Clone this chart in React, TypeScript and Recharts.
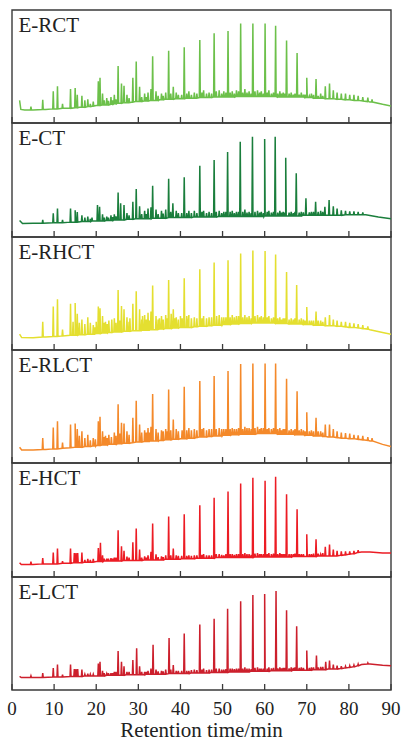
import React from 'react';
import { LineChart, Line, XAxis, YAxis, ReferenceArea, Label } from 'recharts';

const X_TICKS = [0, 10, 20, 30, 40, 50, 60, 70, 80, 90];
const SAMPLE_NAMES = ['E-RCT', 'E-CT', 'E-RHCT', 'E-RLCT', 'E-HCT', 'E-LCT'];
const SAMPLE_COLORS = ['#6cc04a', '#1a7e3c', '#e4df30', '#f4892a', '#ec1c24', '#cc1f2c'];

// baseline: [time, intensity]; peaks: [time, foot, top]
const RCT_BASE = [[1.8, 20], [2.1, 12], [3, 11.5], [5, 11.5], [8, 12], [10, 12.5], [13, 13], [16, 14], [20, 15.5], [25, 17.5], [30, 19], [35, 20.5], [40, 21.5], [45, 22.5], [50, 23], [55, 23.5], [60, 23.5], [65, 23], [70, 22.5], [75, 21.5], [80, 20.5], [85, 18.5], [88, 16.5], [90, 15]];
const RCT_PEAKS = [[4.5, 11.5, 14.5], [7.3, 12, 20.5], [9.8, 12.5, 28], [10.8, 12.5, 32.5], [12.0, 13, 17], [13.9, 13, 30], [15.0, 13.5, 31], [15.5, 13.5, 25], [16.6, 14, 24], [17.3, 14, 20], [18.0, 14.5, 21], [19.3, 15, 19], [20.5, 15.5, 37], [20.9, 15.5, 40], [21.5, 16, 26], [22.5, 16, 22], [23.5, 16.5, 23], [24.3, 17, 25], [25.2, 17.5, 50.5], [26.0, 17.5, 35], [26.6, 18, 33], [27.3, 18, 25], [28.7, 18.5, 40], [29.5, 19, 54.5], [30.3, 19, 32], [31.5, 19.5, 26], [32.3, 19.5, 27], [33.0, 20, 30], [33.4, 20, 59], [34.2, 20, 28], [35.5, 20.5, 26], [36.5, 21, 27], [37.2, 21, 64], [38.3, 21, 32], [39.0, 21.5, 27], [40.9, 21.5, 67], [42.0, 22, 28], [43.3, 22, 27], [44.6, 22.5, 73.5], [45.5, 22.5, 29], [46.8, 22.5, 27], [48.0, 23, 79.5], [49.2, 23, 29], [50.3, 23, 28], [51.3, 23, 81.5], [52.3, 23, 28], [53.3, 23.5, 29], [54.3, 23.5, 88], [55.3, 23.5, 30], [56.3, 23.5, 28], [57.2, 23.5, 88], [58.3, 23.5, 29], [59.2, 23.5, 28], [60.1, 23.5, 88], [61.0, 23.5, 29], [62.6, 23.5, 86], [63.6, 23, 28], [64.4, 23, 27], [65.2, 23, 73], [66.3, 23, 27], [67.7, 23, 62], [68.7, 23, 27], [70.0, 22.5, 40], [71.1, 22.5, 26], [72.2, 22, 39], [73.3, 22, 26], [74.4, 21.5, 32.5], [75.4, 21.5, 35], [76.3, 21.5, 29], [77.2, 21, 27], [78.2, 21, 26], [79.2, 20.5, 26], [80.2, 20.5, 25], [81.2, 20, 25], [82.2, 20, 24], [83.3, 19.5, 23], [84.5, 19, 22.5], [85.5, 18.5, 21]];
const RCT_NOISE = [[18.6, 14.5, 17], [21.9, 16, 20], [22.9, 16, 19.5], [23.9, 16.5, 20], [24.7, 17, 21], [27.8, 18, 22], [30.8, 19, 23], [31.9, 19.5, 23], [34.7, 20, 24], [35.9, 20.5, 24], [37.7, 21, 26], [39.5, 21.5, 25], [40.3, 21.5, 25], [41.5, 22, 26], [42.6, 22, 25], [43.9, 22, 26], [45.1, 22.5, 27], [46.2, 22.5, 26], [47.4, 22.5, 26], [48.5, 23, 28], [49.8, 23, 26], [50.8, 23, 27], [51.8, 23, 27], [52.8, 23, 26], [53.8, 23.5, 28], [54.8, 23.5, 27], [55.8, 23.5, 27], [56.8, 23.5, 26], [57.7, 23.5, 28], [58.8, 23.5, 27], [59.7, 23.5, 26], [60.6, 23.5, 27], [61.6, 23.5, 26], [62.1, 23.5, 27], [63.1, 23, 26], [64.0, 23, 26], [64.8, 23, 26], [65.8, 23, 26], [66.8, 23, 25], [67.2, 23, 26], [68.2, 23, 25], [69.2, 23, 25], [69.6, 22.5, 25], [70.6, 22.5, 24], [71.6, 22, 25], [72.7, 22, 24], [73.8, 22, 24]];

const CT_BASE = [[1.8, 14.5], [2.5, 11.8], [5, 12], [10, 12.5], [15, 13], [20, 14], [25, 15], [30, 16], [35, 16.5], [40, 17], [45, 17.5], [50, 18], [55, 18], [60, 18.5], [65, 18.5], [70, 19], [75, 19], [80, 19.5], [84, 19.5], [87, 17.5], [90, 16]];
const CT_PEAKS = [[7.3, 12, 15], [9.8, 12.5, 20.7], [10.8, 12.5, 25], [12.0, 12.5, 15], [13.9, 13, 25], [15.0, 13, 23.5], [15.5, 13, 22], [16.6, 13.5, 19], [17.3, 13.5, 17], [18.0, 13.5, 18], [19.0, 14, 17], [20.3, 14, 28], [20.8, 14, 26.5], [21.5, 14, 20], [22.5, 14.5, 18], [23.5, 14.5, 19], [24.3, 15, 20], [25.2, 15, 39], [25.8, 15, 29.5], [26.6, 15, 28], [27.3, 15.5, 21], [28.7, 15.5, 31], [29.5, 16, 42], [30.3, 16, 27], [31.5, 16, 23], [32.3, 16, 25], [33.0, 16, 26], [33.4, 16.5, 45], [34.2, 16.5, 24], [35.5, 16.5, 23], [36.5, 16.5, 24], [37.2, 17, 51], [38.2, 17, 29.5], [39.0, 17, 23], [40.9, 17, 52.5], [42.0, 17, 23], [43.3, 17.5, 23], [44.6, 17.5, 62.5], [45.5, 17.5, 23], [46.8, 17.5, 22], [48.0, 17.5, 67.5], [49.2, 18, 23], [50.3, 18, 22], [51.2, 18, 74.5], [52.3, 18, 23], [53.3, 18, 22], [54.2, 18, 83.5], [55.3, 18, 24], [56.3, 18, 22], [57.1, 18, 88], [58.3, 18, 23], [59.2, 18, 22], [60.0, 18.5, 86], [61.0, 18.5, 23], [62.5, 18.5, 88], [63.6, 18.5, 23], [64.4, 18.5, 22], [65.0, 18.5, 69.5], [66.3, 18.5, 22], [67.5, 18.5, 56], [68.7, 18.5, 22], [69.8, 19, 34], [71.1, 19, 22], [72.1, 19, 31], [73.3, 19, 23], [74.3, 19, 26.5], [75.3, 19, 32.5], [76.3, 19, 27], [77.2, 19, 25], [78.2, 19, 23.5], [79.2, 19.5, 23], [80.2, 19.5, 22.5], [81.2, 19.5, 22.5], [82.2, 19.5, 22], [83.3, 19.5, 21.5]];
const CT_NOISE = [[18.6, 13.5, 16], [21.9, 14, 17], [22.9, 14.5, 17], [23.9, 14.5, 17.5], [24.7, 15, 18], [27.8, 15.5, 19], [30.8, 16, 20], [31.9, 16, 20], [34.7, 16.5, 20], [35.9, 16.5, 20.5], [37.7, 17, 22], [39.5, 17, 21], [40.3, 17, 21], [41.5, 17, 21], [42.6, 17, 21], [43.9, 17.5, 21], [45.1, 17.5, 22], [46.2, 17.5, 21], [47.4, 17.5, 21], [48.5, 17.5, 22], [49.8, 18, 21], [50.8, 18, 22], [51.8, 18, 22], [52.8, 18, 21], [53.8, 18, 22], [54.8, 18, 22], [55.8, 18, 21.5], [56.8, 18, 21], [57.7, 18, 22], [58.8, 18, 21.5], [59.7, 18, 21], [60.6, 18.5, 22], [61.6, 18.5, 21.5], [62.1, 18.5, 22], [63.1, 18.5, 21.5], [64.0, 18.5, 21.5], [64.8, 18.5, 21.5], [65.8, 18.5, 21.5], [66.8, 18.5, 21], [67.2, 18.5, 22], [68.2, 18.5, 21.5], [69.2, 19, 21.5], [70.6, 19, 21.5], [71.6, 19, 22], [72.7, 19, 22], [73.8, 19, 22]];

const RHCT_BASE = [[1.8, 14], [2.3, 11], [5, 10.8], [8, 11.5], [10, 12], [15, 13], [20, 14.5], [25, 16], [30, 17], [35, 18.5], [40, 20], [45, 21], [50, 22.5], [55, 23.5], [60, 24], [65, 23.5], [70, 22.5], [75, 21.5], [80, 20], [85, 18], [88, 15.5], [90, 14]];
const RHCT_PEAKS = [[7.3, 11.5, 25], [9.8, 12, 38.5], [10.8, 12, 45], [12.0, 12.5, 18], [13.9, 13, 41], [14.5, 13, 25], [15.0, 13, 41.5], [15.5, 13, 32], [16.0, 13.5, 24], [16.6, 13.5, 27], [17.3, 13.5, 23], [18.0, 14, 29], [18.6, 14, 24], [19.3, 14, 22], [20.0, 14.5, 25], [20.5, 14.5, 38.5], [20.9, 14.5, 37], [21.5, 15, 30], [22.2, 15, 25], [23.0, 15.5, 26], [23.7, 15.5, 27], [24.3, 16, 28], [25.2, 16, 53], [26.0, 16, 39], [26.6, 16.5, 36], [27.3, 16.5, 29], [28.0, 16.5, 28], [28.7, 17, 41], [29.5, 17, 52], [30.3, 17, 36], [31.0, 17.5, 30], [31.5, 17.5, 31], [32.3, 17.5, 33], [33.0, 18, 34], [33.4, 18, 57], [34.2, 18, 30], [35.0, 18.5, 28], [35.5, 18.5, 30], [36.5, 19, 31], [37.2, 19, 62], [37.8, 19, 32], [38.3, 19.5, 36], [39.0, 19.5, 29], [40.0, 20, 30], [40.9, 20, 63.5], [41.5, 20, 30], [42.0, 20, 31], [43.3, 20.5, 29], [44.6, 21, 71.5], [45.5, 21, 30], [46.8, 21.5, 29], [48.0, 22, 77.5], [48.6, 22, 30], [49.2, 22, 31], [50.3, 22.5, 29], [51.3, 22.5, 79.5], [52.3, 23, 31], [53.3, 23, 30], [54.3, 23.5, 85.5], [55.3, 23.5, 31], [56.3, 23.5, 30], [57.2, 24, 88], [58.3, 24, 31], [59.2, 24, 30], [60.1, 24, 87.5], [61.0, 24, 30], [62.6, 23.5, 84.5], [63.6, 23.5, 29], [64.4, 23.5, 28], [65.2, 23.5, 69], [66.3, 23, 28], [67.6, 23, 57.5], [68.7, 23, 28], [70.0, 22.5, 38], [71.1, 22.5, 26], [72.2, 22, 34], [73.3, 22, 26], [74.4, 21.5, 29], [75.4, 21.5, 31], [76.3, 21.5, 27], [77.2, 21, 26], [78.2, 21, 25], [79.2, 20.5, 25], [80.2, 20, 24], [81.2, 20, 23.5], [82.2, 19.5, 23], [83.3, 19, 22], [84.5, 18.5, 21]];
const RHCT_NOISE = [[19.7, 14, 20], [21.9, 15, 24], [22.6, 15, 23], [24.7, 16, 24], [25.6, 16, 26], [27.8, 16.5, 25], [30.8, 17, 27], [31.9, 17.5, 27], [32.7, 17.5, 26], [34.7, 18, 27], [35.9, 18.5, 27], [36.9, 19, 28], [38.7, 19.5, 28], [39.5, 19.5, 27], [40.4, 20, 28], [41.9, 20, 27], [42.6, 20, 28], [43.9, 20.5, 28], [45.1, 21, 28], [46.2, 21, 28], [47.4, 21.5, 29], [49.8, 22, 29], [50.8, 22.5, 29], [51.8, 22.5, 29], [52.8, 23, 29], [53.8, 23, 30], [54.8, 23.5, 29], [55.8, 23.5, 29], [56.8, 23.5, 28], [57.7, 24, 30], [58.8, 24, 29], [59.7, 24, 29], [60.6, 24, 29], [61.6, 24, 28], [62.1, 24, 29], [63.1, 23.5, 28], [64.0, 23.5, 27], [64.8, 23.5, 28], [65.8, 23, 27], [66.8, 23, 27], [67.2, 23, 28], [68.2, 23, 27], [69.2, 22.5, 27], [69.6, 22.5, 26], [70.6, 22.5, 26], [71.6, 22, 26], [72.7, 22, 26], [73.8, 22, 25]];

const RLCT_BASE = [[1.8, 14], [2.3, 11.6], [5, 11.5], [8, 12], [10, 12.5], [15, 14], [20, 15.5], [25, 17], [30, 18.5], [35, 20], [40, 21.5], [45, 23], [50, 24.5], [55, 25.5], [60, 26], [65, 25.5], [70, 24.5], [75, 23], [80, 21.5], [85, 19.5], [88, 16.5], [90, 14.5]];
const RLCT_PEAKS = [[7.3, 12, 22], [9.8, 12.5, 31.5], [10.8, 12.5, 37], [12.0, 13, 18], [13.9, 13.5, 34], [15.0, 14, 35], [15.5, 14, 30], [16.0, 14, 24], [16.6, 14, 28], [17.3, 14.5, 22], [18.0, 14.5, 25], [19.3, 15, 22], [20.5, 15.5, 37], [20.9, 15.5, 41], [21.5, 16, 28], [22.2, 16, 24], [23.0, 16.5, 25], [24.3, 16.5, 27], [25.2, 17, 52], [26.0, 17, 35.5], [26.6, 17.5, 35], [27.3, 17.5, 28], [28.7, 18, 40], [29.5, 18.5, 55], [30.3, 18.5, 34], [31.5, 19, 29], [32.3, 19, 31], [33.0, 19.5, 32], [33.4, 19.5, 61], [34.2, 19.5, 30], [35.5, 20, 29], [36.5, 20.5, 30], [37.2, 20.5, 65], [38.3, 21, 38.5], [39.0, 21, 30], [40.9, 21.5, 67.5], [42.0, 22, 31], [43.3, 22, 30], [44.6, 23, 72.5], [45.5, 23, 31], [46.8, 23.5, 30], [48.0, 24, 77], [49.2, 24, 31], [50.3, 24.5, 30], [51.3, 24.5, 81.5], [52.3, 25, 31], [53.3, 25, 30], [54.3, 25.5, 87.5], [55.3, 25.5, 32], [56.3, 25.5, 31], [57.2, 25.5, 88], [58.3, 26, 32], [59.2, 26, 31], [60.1, 26, 88], [61.0, 26, 31], [62.6, 26, 88], [63.6, 25.5, 31], [64.4, 25.5, 30], [65.2, 25.5, 74.5], [66.3, 25.5, 30], [67.7, 25, 63.5], [68.7, 25, 30], [70.0, 24.5, 45], [71.1, 24.5, 29], [72.2, 24, 40], [73.3, 24, 28], [74.4, 23.5, 34], [75.4, 23, 34], [76.3, 23, 30], [77.2, 22.5, 28], [78.2, 22, 27], [79.2, 22, 26.5], [80.2, 21.5, 26], [81.2, 21.5, 25], [82.2, 21, 24.5], [83.3, 20.5, 24], [84.5, 20, 23], [85.5, 19.5, 22]];
const RLCT_NOISE = [[18.6, 14.5, 20], [19.8, 15, 21], [21.9, 16, 23], [22.6, 16, 22], [23.6, 16.5, 23], [24.7, 16.5, 24], [25.6, 17, 26], [27.8, 17.5, 25], [30.8, 18.5, 27], [31.9, 19, 27], [32.7, 19, 27], [34.7, 19.5, 27], [35.9, 20, 28], [36.9, 20.5, 28], [37.7, 20.5, 29], [39.5, 21, 28], [40.4, 21.5, 29], [41.5, 21.5, 29], [42.6, 22, 29], [43.9, 22.5, 29], [45.1, 23, 30], [46.2, 23, 29], [47.4, 23.5, 30], [48.5, 24, 30], [49.8, 24, 30], [50.8, 24.5, 30], [51.8, 24.5, 30], [52.8, 25, 30], [53.8, 25, 31], [54.8, 25.5, 30], [55.8, 25.5, 31], [56.8, 25.5, 30], [57.7, 25.5, 31], [58.8, 26, 30], [59.7, 26, 31], [60.6, 26, 30], [61.6, 26, 30], [62.1, 26, 31], [63.1, 25.5, 30], [64.0, 25.5, 29], [64.8, 25.5, 30], [65.8, 25.5, 29], [66.8, 25.5, 29], [67.2, 25, 30], [68.2, 25, 29], [69.2, 25, 29], [69.6, 24.5, 28], [70.6, 24.5, 28], [71.6, 24, 28], [72.7, 24, 28], [73.8, 23.5, 27]];

const HCT_BASE = [[1.8, 12.5], [2.2, 11], [5, 11], [10, 11.5], [15, 12.5], [20, 13.5], [25, 14], [30, 14.5], [35, 15], [40, 15.5], [45, 16.5], [50, 17], [55, 17], [60, 17.5], [65, 17.5], [70, 18], [75, 18.5], [78, 19], [81, 20.5], [83, 22], [85, 22], [88, 21], [90, 21]];
const HCT_PEAKS = [[4.5, 11, 13.5], [7.3, 11.5, 16.5], [9.8, 11.5, 21.5], [10.8, 11.5, 25], [12.0, 12, 14], [13.9, 12, 25], [14.8, 12.5, 21], [15.2, 12.5, 21], [15.6, 12.5, 21], [16.6, 12.5, 21.5], [17.3, 13, 15], [18.0, 13, 16], [19.3, 13, 16], [20.5, 13.5, 25.5], [21.0, 13.5, 30], [21.5, 13.5, 19], [22.5, 14, 16], [23.5, 14, 16.5], [24.3, 14, 17], [25.2, 14, 41], [26.0, 14, 27], [26.6, 14.5, 23], [27.3, 14.5, 18], [28.7, 14.5, 30.5], [29.5, 14.5, 42.5], [30.3, 14.5, 24], [31.5, 15, 18], [32.3, 15, 19], [33.0, 15, 22], [33.4, 15, 47], [34.2, 15, 20], [35.5, 15, 18], [36.5, 15.5, 19], [37.2, 15.5, 53], [38.3, 15.5, 25], [39.0, 15.5, 19], [40.9, 16, 55], [42.0, 16, 19], [43.3, 16, 19], [44.6, 16.5, 63], [45.5, 16.5, 20], [46.8, 16.5, 19], [48.0, 16.5, 69.5], [49.2, 17, 20], [50.3, 17, 19], [51.3, 17, 75], [52.3, 17, 20], [53.3, 17, 20], [54.3, 17, 82], [55.3, 17, 21], [56.3, 17, 20], [57.2, 17, 87], [58.3, 17.5, 21], [59.2, 17.5, 20], [60.1, 17.5, 84.5], [61.0, 17.5, 21], [62.6, 17.5, 88], [63.6, 17.5, 21], [64.4, 17.5, 20], [65.2, 17.5, 72.5], [66.3, 17.5, 20], [67.7, 18, 59.5], [68.7, 18, 20], [70.0, 18, 37.5], [71.1, 18, 20], [72.2, 18, 33], [73.3, 18.5, 20], [74.4, 18.5, 26.5], [75.4, 18.5, 28.5], [76.3, 18.5, 24], [77.2, 18.5, 23], [78.2, 19, 22.5], [79.2, 19.5, 22.5], [80.2, 20, 22.5], [81.2, 20.5, 23], [82.2, 21.5, 23.5]];
const HCT_NOISE = [[18.6, 13, 15], [21.9, 14, 16], [22.9, 14, 16], [23.9, 14, 16], [24.7, 14, 17], [27.8, 14.5, 17], [30.8, 14.5, 17], [31.9, 15, 17], [34.7, 15, 17.5], [35.9, 15, 17.5], [37.7, 15.5, 19], [39.5, 15.5, 18.5], [40.3, 16, 18.5], [41.5, 16, 18.5], [42.6, 16, 18.5], [43.9, 16.5, 19], [45.1, 16.5, 19.5], [46.2, 16.5, 19], [47.4, 16.5, 19], [48.5, 17, 20], [49.8, 17, 19.5], [50.8, 17, 20], [51.8, 17, 20], [52.8, 17, 19.5], [53.8, 17, 20], [54.8, 17, 20], [55.8, 17, 20], [56.8, 17, 19.5], [57.7, 17.5, 20.5], [58.8, 17.5, 20], [59.7, 17.5, 20], [60.6, 17.5, 20], [61.6, 17.5, 20], [62.1, 17.5, 20.5], [63.1, 17.5, 20], [64.0, 17.5, 20], [64.8, 17.5, 20], [65.8, 17.5, 20], [66.8, 18, 20], [67.2, 18, 20.5], [68.2, 18, 20], [69.2, 18, 20], [70.6, 18, 20], [71.6, 18, 20.5], [72.7, 18.5, 20.5], [73.8, 18.5, 21]];

const LCT_BASE = [[1.8, 12], [2.2, 11], [5, 11], [10, 11.5], [15, 12], [20, 12.5], [25, 13], [30, 13.5], [35, 14], [40, 14.5], [45, 15], [50, 15.5], [55, 16], [60, 16.5], [65, 17], [70, 17.5], [75, 18.5], [78, 19], [81, 20.5], [83, 22.5], [85, 23], [88, 22], [90, 21.5]];
const LCT_PEAKS = [[4.5, 11, 12.5], [7.3, 11, 15], [9.8, 11.5, 19.5], [10.8, 11.5, 22.5], [12.0, 11.5, 13.5], [13.9, 12, 22.5], [14.8, 12, 18.5], [15.2, 12, 18.5], [15.6, 12, 18.5], [16.6, 12, 18], [17.3, 12.5, 14], [18.0, 12.5, 14.5], [19.3, 12.5, 14], [20.5, 12.5, 23.5], [20.9, 12.5, 25], [21.5, 12.5, 17], [22.5, 13, 14.5], [23.5, 13, 15], [24.3, 13, 16], [25.2, 13, 34.5], [26.0, 13, 25], [26.6, 13, 21], [27.3, 13.5, 16], [28.7, 13.5, 26.5], [29.6, 13.5, 37], [30.3, 13.5, 21], [31.5, 13.5, 16], [32.3, 14, 17], [33.0, 14, 19], [33.5, 14, 40], [34.2, 14, 18], [35.5, 14, 17], [36.5, 14, 18], [37.3, 14.5, 46], [38.3, 14.5, 22], [39.0, 14.5, 17], [40.9, 14.5, 50], [42.0, 14.5, 17], [43.3, 15, 18], [44.6, 15, 58], [45.5, 15, 19], [46.8, 15, 18], [48.0, 15.5, 63], [49.2, 15.5, 19], [50.3, 15.5, 18], [51.2, 15.5, 72], [52.3, 16, 19], [53.3, 16, 19], [54.3, 16, 78.5], [55.3, 16, 20], [56.3, 16, 19], [57.2, 16.5, 84], [58.3, 16.5, 20], [59.2, 16.5, 19], [60.0, 16.5, 85], [61.0, 16.5, 20], [62.7, 17, 87.5], [63.6, 17, 20], [64.4, 17, 19.5], [65.2, 17, 70.5], [66.3, 17, 20], [67.6, 17.5, 56.5], [68.7, 17.5, 20], [70.0, 17.5, 35], [71.1, 17.5, 20], [72.3, 18, 30.5], [73.3, 18, 20.5], [74.5, 18, 25], [75.4, 18.5, 26], [76.3, 18.5, 22.5], [77.2, 18.5, 21.5], [78.2, 19, 21], [79.2, 19.5, 21], [80.2, 20, 21.5], [81.2, 20.5, 22], [82.2, 21.5, 23], [84.5, 23, 24]];
const LCT_NOISE = [[18.6, 12.5, 14], [21.9, 12.5, 15], [22.9, 13, 15], [23.9, 13, 15], [24.7, 13, 16], [27.8, 13.5, 16], [30.8, 13.5, 16], [31.9, 14, 16], [34.7, 14, 16.5], [35.9, 14, 16.5], [37.7, 14.5, 18], [39.5, 14.5, 17], [40.3, 14.5, 17], [41.5, 14.5, 17], [42.6, 15, 17.5], [43.9, 15, 17.5], [45.1, 15, 18], [46.2, 15, 17.5], [47.4, 15.5, 18], [48.5, 15.5, 19], [49.8, 15.5, 18], [50.8, 15.5, 18.5], [51.8, 16, 19], [52.8, 16, 18.5], [53.8, 16, 19], [54.8, 16, 19], [55.8, 16, 19], [56.8, 16.5, 18.5], [57.7, 16.5, 19.5], [58.8, 16.5, 19], [59.7, 16.5, 19], [60.6, 16.5, 19], [61.6, 17, 19], [62.1, 17, 19.5], [63.1, 17, 19], [64.0, 17, 19], [64.8, 17, 19.5], [65.8, 17, 19], [66.8, 17.5, 19.5], [67.2, 17.5, 20], [68.2, 17.5, 19.5], [69.2, 17.5, 19.5], [70.6, 17.5, 19.5], [71.6, 18, 20], [72.7, 18, 20], [73.8, 18, 20.5]];

const SERIES_BASE = [RCT_BASE, CT_BASE, RHCT_BASE, RLCT_BASE, HCT_BASE, LCT_BASE];
const SERIES_PEAKS = [RCT_PEAKS, CT_PEAKS, RHCT_PEAKS, RLCT_PEAKS, HCT_PEAKS, LCT_PEAKS];
const SERIES_NOISE = [RCT_NOISE, CT_NOISE, RHCT_NOISE, RLCT_NOISE, HCT_NOISE, LCT_NOISE];

const PANEL_TOPS = [10, 123, 237, 350, 463, 577];
const PANEL_BOTTOM_LAST = 690;
const HALF_WIDTH = 0.12;
const FONT = "'Liberation Serif', 'Tinos', 'Times New Roman', Times, 'DejaVu Serif', serif";

type Pt = { t: number; v: number };

function buildSeries(base: number[][], peaks: number[][], noise: number[][]): Pt[] {
  const pts: Pt[] = base.map(([t, v]) => ({ t, v }));
  [...peaks, ...noise].forEach(([t, foot, top]) => {
    pts.push({ t: t - HALF_WIDTH, v: foot }, { t, v: top }, { t: t + HALF_WIDTH, v: foot });
  });
  pts.sort((a, b) => a.t - b.t);
  return pts;
}

const EmptyTick = () => <g />;

function Panel({ index }: { index: number }) {
  const top = PANEL_TOPS[index];
  const isLast = index === PANEL_TOPS.length - 1;
  const plotH = (isLast ? PANEL_BOTTOM_LAST : PANEL_TOPS[index + 1]) - top;
  const chartTop = top - 2;
  const chartH = isLast ? 743 - chartTop : plotH + 5;
  const mb = chartH - 2 - plotH - 1;
  const data = buildSeries(SERIES_BASE[index], SERIES_PEAKS[index], SERIES_NOISE[index]);
  return (
    <div style={{ position: 'absolute', left: 0, top: chartTop, width: 401, height: chartH }}>
      <LineChart width={401} height={chartH} data={data} margin={{ top: 2, right: 10, bottom: mb, left: 12 }}>
        <XAxis
          type="number"
          dataKey="t"
          domain={[0, 90]}
          ticks={X_TICKS}
          interval={0}
          height={1}
          axisLine={false}
          tickSize={-6}
          tickMargin={17.5}
          tickLine={{ stroke: '#3a3a3a', strokeWidth: 1.3 }}
          tick={isLast ? { fontSize: 19, fontFamily: FONT, fill: '#222' } : EmptyTick}
          allowDataOverflow
        >
          {isLast && (
            <Label value="Retention time/min" position="bottom" offset={31} style={{ fontSize: 21, fontFamily: FONT, fill: '#222' }} />
          )}
        </XAxis>
        <YAxis hide type="number" domain={[0, 100]} allowDataOverflow />
        <ReferenceArea x1={0} x2={90} y1={0} y2={100} fill="none" fillOpacity={0} stroke="#3a3a3a" strokeWidth={1.4} ifOverflow="visible" />
        <Line
          type="linear"
          dataKey="v"
          stroke={SAMPLE_COLORS[index]}
          strokeWidth={1.5}
          dot={false}
          activeDot={false}
          isAnimationActive={false}
        />
      </LineChart>
      <div
        style={{
          position: 'absolute',
          left: 18.5,
          top: 2 + 4.5,
          fontFamily: FONT,
          fontSize: 21,
          lineHeight: '21px',
          color: '#222',
          whiteSpace: 'nowrap',
        }}
      >
        {SAMPLE_NAMES[index]}
      </div>
    </div>
  );
}

export default function App() {
  return (
    <div style={{ position: 'absolute', left: 0, top: 0, width: 401, height: 743, background: '#fff' }}>
      {SAMPLE_NAMES.map((_, i) => (
        <Panel key={i} index={i} />
      ))}
    </div>
  );
}
